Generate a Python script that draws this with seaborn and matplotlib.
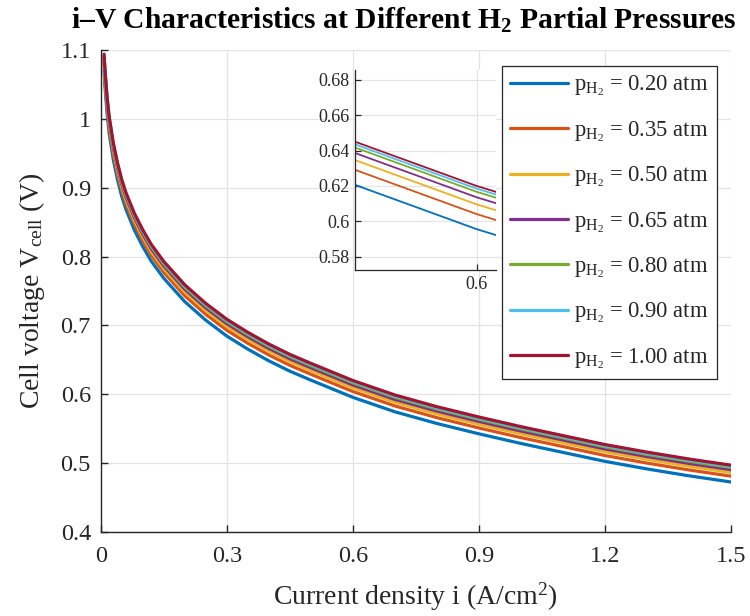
import matplotlib
matplotlib.use("Agg")
import matplotlib.pyplot as plt
import seaborn as sns
import pandas as pd

# ---- data ----
current_density = [0.008, 0.01, 0.015, 0.02, 0.03, 0.04, 0.05, 0.06, 0.08, 0.10, 0.12, 0.15,
                   0.20, 0.25, 0.30, 0.35, 0.40, 0.45, 0.50, 0.60, 0.70, 0.80, 0.90, 1.00,
                   1.10, 1.20, 1.30, 1.40, 1.50]

v_020 = [1.0696, 1.0486, 1.0086, 0.9796, 0.9406, 0.9116, 0.8876, 0.8686, 0.8386, 0.8146, 0.7936, 0.7686,
         0.7346, 0.7076, 0.6846, 0.6656, 0.6486, 0.6336, 0.6206, 0.5956, 0.5746, 0.5576, 0.5426, 0.5286,
         0.5156, 0.5026, 0.4916, 0.4816, 0.4726]
v_035 = [1.0781, 1.0571, 1.0171, 0.9881, 0.9491, 0.9201, 0.8961, 0.8771, 0.8471, 0.8231, 0.8021, 0.7771,
         0.7431, 0.7161, 0.6931, 0.6741, 0.6571, 0.6421, 0.6291, 0.6041, 0.5831, 0.5661, 0.5511, 0.5371,
         0.5241, 0.5111, 0.5001, 0.4901, 0.4811]
v_050 = [1.0836, 1.0626, 1.0226, 0.9936, 0.9546, 0.9256, 0.9016, 0.8826, 0.8526, 0.8286, 0.8076, 0.7826,
         0.7486, 0.7216, 0.6986, 0.6796, 0.6626, 0.6476, 0.6346, 0.6096, 0.5886, 0.5716, 0.5566, 0.5426,
         0.5296, 0.5166, 0.5056, 0.4956, 0.4866]
v_065 = [1.0876, 1.0666, 1.0266, 0.9976, 0.9586, 0.9296, 0.9056, 0.8866, 0.8566, 0.8326, 0.8116, 0.7866,
         0.7526, 0.7256, 0.7026, 0.6836, 0.6666, 0.6516, 0.6386, 0.6136, 0.5926, 0.5756, 0.5606, 0.5466,
         0.5336, 0.5206, 0.5096, 0.4996, 0.4906]
v_080 = [1.0907, 1.0697, 1.0297, 1.0007, 0.9617, 0.9327, 0.9087, 0.8897, 0.8597, 0.8357, 0.8147, 0.7897,
         0.7557, 0.7287, 0.7057, 0.6867, 0.6697, 0.6547, 0.6417, 0.6167, 0.5957, 0.5787, 0.5637, 0.5497,
         0.5367, 0.5237, 0.5127, 0.5027, 0.4937]
v_090 = [1.0925, 1.0715, 1.0315, 1.0025, 0.9635, 0.9345, 0.9105, 0.8915, 0.8615, 0.8375, 0.8165, 0.7915,
         0.7575, 0.7305, 0.7075, 0.6885, 0.6715, 0.6565, 0.6435, 0.6185, 0.5975, 0.5805, 0.5655, 0.5515,
         0.5385, 0.5255, 0.5145, 0.5045, 0.4955]
v_100 = [1.094, 1.073, 1.033, 1.004, 0.965, 0.936, 0.912, 0.893, 0.863, 0.839, 0.818, 0.793,
         0.759, 0.732, 0.709, 0.690, 0.673, 0.658, 0.645, 0.620, 0.599, 0.582, 0.567, 0.553,
         0.540, 0.527, 0.516, 0.506, 0.497]

pressures = ["0.20", "0.35", "0.50", "0.65", "0.80", "0.90", "1.00"]
series = [v_020, v_035, v_050, v_065, v_080, v_090, v_100]
colors = ["#0072BD", "#D95319", "#EDB120", "#7E2F8E", "#77AC30", "#4DBEEE", "#A2142F"]

x_ticks = [0, 0.3, 0.6, 0.9, 1.2, 1.5]
x_tick_labels = ["0", "0.3", "0.6", "0.9", "1.2", "1.5"]
y_ticks = [0.4, 0.5, 0.6, 0.7, 0.8, 0.9, 1.0, 1.1]
y_tick_labels = ["0.4", "0.5", "0.6", "0.7", "0.8", "0.9", "1", "1.1"]
inset_y_ticks = [0.58, 0.60, 0.62, 0.64, 0.66, 0.68]
inset_y_labels = ["0.58", "0.6", "0.62", "0.64", "0.66", "0.68"]
inset_x_ticks = [0.6]
inset_x_labels = ["0.6"]

# ---- long-form table ----
labels = [r"$\mathrm{p_{H_2}}$ = " + p + " atm" for p in pressures]
rows = []
for lab, vals in zip(labels, series):
    for i, v in zip(current_density, vals):
        rows.append({"i": i, "V": v, "series": lab})
df = pd.DataFrame(rows)

sns.set_theme(style="white")
plt.rcParams["font.family"] = ["Liberation Serif", "DejaVu Serif"]
plt.rcParams["mathtext.fontset"] = "custom"
plt.rcParams["mathtext.rm"] = "Liberation Serif"
plt.rcParams["mathtext.it"] = "Liberation Serif:italic"
plt.rcParams["mathtext.bf"] = "Liberation Serif:bold"

W, H = 750, 616
fig = plt.figure(figsize=(7.5, 6.16), dpi=100)
ax = fig.add_axes([100.7 / W, 1 - 532 / H, (731 - 100.7) / W, (532 - 50) / H])

palette = dict(zip(labels, colors))
sns.lineplot(data=df, x="i", y="V", hue="series", palette=palette, ax=ax,
             linewidth=2.3, sort=False, estimator=None, legend=True)

grid_c = "#e3e3e3"
axis_c = "#262626"
ax.set_xlim(0, 1.5)
ax.set_ylim(0.4, 1.1)
ax.set_xticks(x_ticks)
ax.set_xticklabels(x_tick_labels)
ax.set_yticks(y_ticks)
ax.set_yticklabels(y_tick_labels)
ax.grid(True, color=grid_c, linewidth=0.9)
ax.set_axisbelow(True)
for s in ["top", "right"]:
    ax.spines[s].set_visible(False)
for s in ["left", "bottom"]:
    ax.spines[s].set_color(axis_c)
    ax.spines[s].set_linewidth(1.0)
ax.tick_params(direction="in", length=5, width=1.0, colors=axis_c, labelsize=17.5,
               labelcolor=axis_c, left=True, bottom=True)
ax.tick_params(axis="x", pad=10)
ax.tick_params(axis="y", pad=7)
ax.set_xlabel(r"Current density i (A/cm$^2$)", fontsize=20, color=axis_c, labelpad=10)
ax.set_ylabel(r"Cell voltage V$_{\mathrm{cell}}$ (V)", fontsize=20, color=axis_c, labelpad=10)
fig.text(403.5 / W, 1 - 29 / H,
         r"i–V Characteristics at Different H$_\mathbf{2}$ Partial Pressures",
         fontsize=21.3, fontweight="bold", color="black", ha="center", va="baseline")

# legend
handles, leg_labels = ax.get_legend_handles_labels()
ax.legend(handles, leg_labels, loc="upper right",
          bbox_to_anchor=(716.7 / W, 1 - 65.7 / H), bbox_transform=fig.transFigure,
          borderaxespad=0, fontsize=16.3, frameon=True, fancybox=False,
          edgecolor="#262626", framealpha=1, handlelength=2.55, handletextpad=0.3,
          labelspacing=0.92, borderpad=0.35)
ax.get_legend().get_frame().set_linewidth(0.9)

# inset
axin = fig.add_axes([355 / W, 1 - 270 / H, (496 - 355) / W, (270 - 70) / H])
sns.lineplot(data=df, x="i", y="V", hue="series", palette=palette, ax=axin,
             linewidth=1.3, sort=False, estimator=None, legend=False)
axin.set_xlim(0.5, 0.616)
axin.set_ylim(0.5725, 0.6855)
axin.set_xticks(inset_x_ticks)
axin.set_xticklabels(inset_x_labels)
axin.set_yticks(inset_y_ticks)
axin.set_yticklabels(inset_y_labels)
axin.grid(True, color=grid_c, linewidth=0.8)
axin.set_facecolor("white")
for s in ["top", "right"]:
    axin.spines[s].set_visible(False)
for s in ["left", "bottom"]:
    axin.spines[s].set_color(axis_c)
    axin.spines[s].set_linewidth(0.9)
axin.tick_params(direction="in", length=4, width=0.9, colors=axis_c, labelsize=13,
                 labelcolor=axis_c, pad=4, left=True, bottom=True)
axin.set_xlabel("")
axin.set_ylabel("")

fig.savefig("out.png", dpi=100)
